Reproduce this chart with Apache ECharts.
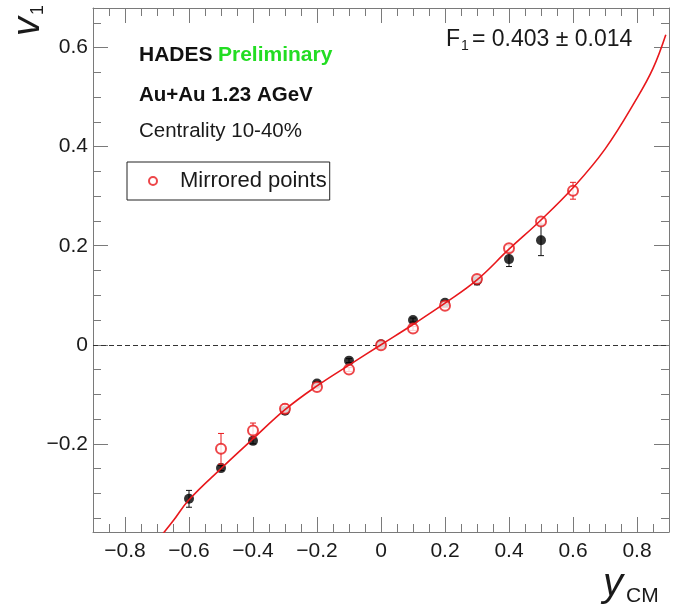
<!DOCTYPE html>
<html>
<head>
<meta charset="utf-8">
<title>HADES v1 vs rapidity</title>
<script src="https://cdn.jsdelivr.net/npm/echarts@6/dist/echarts.min.js"></script>
<style>
  html, body { margin: 0; padding: 0; background: #fff; }
  #chart { width: 673px; height: 611px; }
</style>
</head>
<body>
<div id="chart"></div>
<script>
// Measured directed flow v1 versus centre-of-mass rapidity
const rapidity = [-0.6, -0.5, -0.4, -0.3, -0.2, -0.1, 0.0, 0.1, 0.2, 0.3, 0.4, 0.5];
const v1Measured = [-0.311, -0.249, -0.194, -0.133, -0.078, -0.032, 0.001, 0.050, 0.085, 0.130, 0.173, 0.211];
const v1MeasuredErr = [0.017, 0.005, 0.006, 0.005, 0.004, 0.004, 0.004, 0.004, 0.004, 0.009, 0.015, 0.031];

// Points reflected through the origin
const rapidityMirrored = [-0.5, -0.4, -0.3, -0.2, -0.1, 0.0, 0.1, 0.2, 0.3, 0.4, 0.5, 0.6];
const v1Mirrored = [-0.210, -0.173, -0.129, -0.085, -0.050, -0.001, 0.033, 0.079, 0.133, 0.195, 0.249, 0.311];
const v1MirroredErr = [0.031, 0.015, 0.009, 0.004, 0.004, 0.004, 0.004, 0.004, 0.005, 0.006, 0.005, 0.017];

// Fit curve sampled along its path
const fitX = [-0.70, -0.65, -0.6, -0.5, -0.4, -0.3, -0.2, -0.1, 0.0, 0.1, 0.2, 0.3, 0.4, 0.5, 0.6, 0.7, 0.8, 0.85, 0.89];
const fitY = [-0.396, -0.356, -0.313, -0.250, -0.190, -0.131, -0.083, -0.041, 0.000, 0.041, 0.084, 0.131, 0.193, 0.252, 0.317, 0.395, 0.498, 0.558, 0.626];

// Axis ticks and labels
const xMajorTicks = [-0.8, -0.6, -0.4, -0.2, 0, 0.2, 0.4, 0.6, 0.8];
const xMinorTicks = [-0.85, -0.75, -0.7, -0.65, -0.55, -0.5, -0.45, -0.35, -0.3, -0.25, -0.15, -0.1, -0.05,
                     0.05, 0.1, 0.15, 0.25, 0.3, 0.35, 0.45, 0.5, 0.55, 0.65, 0.7, 0.75, 0.85];
const yMajorTicks = [-0.2, 0, 0.2, 0.4, 0.6];
const yMinorTicks = [-0.35, -0.3, -0.25, -0.15, -0.1, -0.05, 0.05, 0.1, 0.15, 0.25, 0.3, 0.35, 0.45, 0.5, 0.55, 0.65];

const FONT = "'Liberation Sans', Arial, Helvetica, sans-serif";
const FRAME = '#7a7a7a';
const RED = '#e8181c';
const INK = '#1a1a1a';

function tickLabel(v) {
  if (Math.abs(v) < 1e-9) return '0';
  return (v < 0 ? '\u2212' : '') + Math.abs(v).toFixed(1);
}

function axisPair(kind, position, major, minor, withLabels, range) {
  const base = {
    type: 'value', position: position, min: range[0], max: range[1],
    splitLine: { show: false }, axisPointer: { show: false }
  };
  const majorAxis = Object.assign({}, base, {
    axisLine: { show: true, onZero: false, lineStyle: { color: FRAME, width: 1 } },
    axisTick: { show: true, inside: true, length: 15, customValues: major, lineStyle: { color: FRAME, width: 1 } },
    axisLabel: withLabels ? {
      show: true, customValues: major, formatter: tickLabel,
      fontFamily: FONT, fontSize: 21, color: INK, margin: kind === 'x' ? 9 : 5
    } : { show: false }
  });
  const minorAxis = Object.assign({}, base, {
    axisLine: { show: false, onZero: false },
    axisTick: { show: true, inside: true, length: 8, customValues: minor, lineStyle: { color: FRAME, width: 1 } },
    axisLabel: { show: false }
  });
  return [majorAxis, minorAxis];
}

const xRange = [-0.9, 0.9];
const yRange = [-0.378, 0.68];

function errorBars(color) {
  return function (params, api) {
    const x = api.value(0), y = api.value(1), e = api.value(2);
    const hi = api.coord([x, y + e]);
    const lo = api.coord([x, y - e]);
    const cap = 3;
    const style = { stroke: color, lineWidth: 1 };
    return {
      type: 'group',
      children: [
        { type: 'line', shape: { x1: hi[0], y1: hi[1], x2: lo[0], y2: lo[1] }, style: style },
        { type: 'line', shape: { x1: hi[0] - cap, y1: hi[1], x2: hi[0] + cap, y2: hi[1] }, style: style },
        { type: 'line', shape: { x1: lo[0] - cap, y1: lo[1], x2: lo[0] + cap, y2: lo[1] }, style: style }
      ]
    };
  };
}

const measuredPts = rapidity.map((x, i) => [x, v1Measured[i]]);
const measuredErr = rapidity.map((x, i) => [x, v1Measured[i], v1MeasuredErr[i]]);
const mirroredPts = rapidityMirrored.map((x, i) => [x, v1Mirrored[i]]);
const mirroredErr = rapidityMirrored.map((x, i) => [x, v1Mirrored[i], v1MirroredErr[i]]);
const fitPts = fitX.map((x, i) => [x, fitY[i]]);

const chart = echarts.init(document.getElementById('chart'), null, { renderer: 'canvas' });

const option = {
  animation: false,
  backgroundColor: '#ffffff',
  grid: { left: 93, top: 8, width: 576, height: 524, containLabel: false },
  xAxis: [].concat(
    axisPair('x', 'bottom', xMajorTicks, xMinorTicks, true, xRange),
    axisPair('x', 'top', xMajorTicks, xMinorTicks, false, xRange)
  ),
  yAxis: [].concat(
    axisPair('y', 'left', yMajorTicks, yMinorTicks, true, yRange),
    axisPair('y', 'right', yMajorTicks, yMinorTicks, false, yRange)
  ),
  legend: {
    data: ['Mirrored points'],
    left: 127, top: 162,
    orient: 'horizontal',
    padding: [8, 3, 8, 21],
    itemWidth: 44, itemHeight: 8, itemGap: 0,
    backgroundColor: '#fff',
    borderColor: '#222', borderWidth: 1, borderRadius: 0,
    selectedMode: false,
    textStyle: { fontFamily: FONT, fontSize: 22, color: INK }
  },
  series: [
    {
      name: 'zero', type: 'line', data: [], xAxisIndex: 0, yAxisIndex: 0,
      markLine: {
        silent: true, symbol: 'none', label: { show: false },
        lineStyle: { color: '#333', width: 1, type: [5, 3] },
        data: [{ yAxis: 0 }]
      }
    },
    {
      name: 'measured errors', type: 'custom', xAxisIndex: 0, yAxisIndex: 0,
      renderItem: errorBars('#111'), data: measuredErr, encode: { x: 0, y: 1 }, z: 3
    },
    {
      name: 'Measured', type: 'scatter', xAxisIndex: 0, yAxisIndex: 0,
      symbol: 'circle', symbolSize: 10,
      itemStyle: { color: '#000' }, data: measuredPts, z: 4
    },
    {
      name: 'mirrored errors', type: 'custom', xAxisIndex: 0, yAxisIndex: 0,
      renderItem: errorBars(RED), data: mirroredErr, encode: { x: 0, y: 1 }, z: 5
    },
    {
      name: 'Mirrored points', type: 'scatter', xAxisIndex: 0, yAxisIndex: 0,
      symbol: 'emptyCircle', symbolSize: 10,
      itemStyle: { color: RED, borderColor: RED, borderWidth: 1.2 },
      data: mirroredPts, z: 6
    },
    {
      name: 'fit', type: 'line', xAxisIndex: 0, yAxisIndex: 0,
      data: fitPts, smooth: 0.4, showSymbol: false, clip: true,
      lineStyle: { color: RED, width: 1.6 }, z: 7
    }
  ],
  graphic: [
    {
      type: 'text', x: 139, y: 55,
      style: { text: 'HADES', fontFamily: FONT, fontSize: 21, fontWeight: 'bold', fill: '#111', textVerticalAlign: 'middle' }
    },
    {
      type: 'text', x: 218, y: 55,
      style: { text: 'Preliminary', fontFamily: FONT, fontSize: 21, fontWeight: 'bold', fill: '#22dd22', textVerticalAlign: 'middle' }
    },
    {
      type: 'text', x: 139, y: 95,
      style: { text: 'Au+Au 1.23 AGeV', fontFamily: FONT, fontSize: 20.5, fontWeight: 'bold', fill: '#111', textVerticalAlign: 'middle' }
    },
    {
      type: 'text', x: 139, y: 131,
      style: { text: 'Centrality 10-40%', fontFamily: FONT, fontSize: 20.5, fill: INK, textVerticalAlign: 'middle' }
    },
    {
      type: 'text', x: 446, y: 40,
      style: { text: 'F', fontFamily: FONT, fontSize: 23, fill: INK, textVerticalAlign: 'middle' }
    },
    {
      type: 'text', x: 461, y: 46,
      style: { text: '1', fontFamily: FONT, fontSize: 14, fill: INK, textVerticalAlign: 'middle' }
    },
    {
      type: 'text', x: 472, y: 40,
      style: { text: '= 0.403 \u00b1 0.014', fontFamily: FONT, fontSize: 23, fill: INK, textVerticalAlign: 'middle' }
    },
    // y-axis title: v_1, reading upward
    {
      type: 'text', x: 28, y: 36, rotation: Math.PI / 2,
      style: { text: 'v', fontFamily: FONT, fontSize: 38, fontStyle: 'italic', fill: INK, textAlign: 'left', textVerticalAlign: 'middle' }
    },
    {
      type: 'text', x: 38, y: 15, rotation: Math.PI / 2,
      style: { text: '1', fontFamily: FONT, fontSize: 18, fill: INK, textAlign: 'left', textVerticalAlign: 'middle' }
    },
    // x-axis title: y_CM
    {
      type: 'text', x: 603, y: 585,
      style: { text: 'y', fontFamily: FONT, fontSize: 40, fontStyle: 'italic', fill: INK, textAlign: 'left', textVerticalAlign: 'middle' }
    },
    {
      type: 'text', x: 626, y: 596,
      style: { text: 'CM', fontFamily: FONT, fontSize: 21, fill: INK, textAlign: 'left', textVerticalAlign: 'middle' }
    }
  ]
};

chart.setOption(option);
</script>
</body>
</html>
